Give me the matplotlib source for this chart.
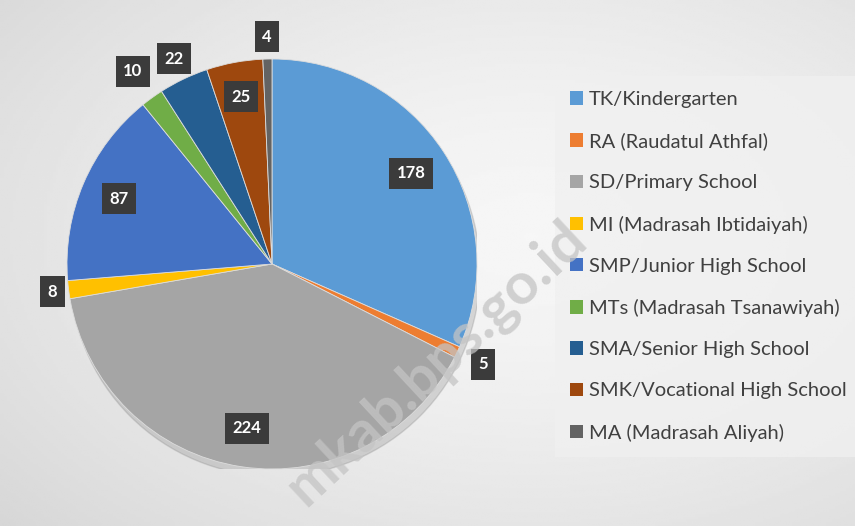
import numpy as np
import matplotlib.pyplot as plt
from matplotlib.patches import Patch, Circle

# data
labels = ["TK/Kindergarten", "RA (Raudatul Athfal)", "SD/Primary School",
          "MI (Madrasah Ibtidaiyah)", "SMP/Junior High School",
          "MTs (Madrasah Tsanawiyah)", "SMA/Senior High School",
          "SMK/Vocational High School", "MA (Madrasah Aliyah)"]
values = [178, 5, 224, 8, 87, 10, 22, 25, 4]
colors = ["#5B9BD5", "#ED7D31", "#A5A5A5", "#FFC000", "#4472C4",
          "#70AD47", "#255E91", "#9E480E", "#636363"]
# label distance from centre (fraction of radius)
label_r = [0.81, 1.14, 0.81, 1.08, 0.81, 1.16, 1.11, 0.83, 1.11]

plt.rcParams['font.family'] = ['Lato', 'DejaVu Sans']

fig = plt.figure(figsize=(8.55, 5.26), dpi=100)

# background gradient
bg = fig.add_axes([0, 0, 1, 1])
yy, xx = np.mgrid[0:1:200j, 0:1:300j]
d = np.sqrt(((xx - 0.62) / 0.9) ** 2 + ((yy - 0.55) / 0.9) ** 2)
shade = 0.965 - 0.14 * np.clip(d, 0, 1) ** 1.5
bg.imshow(shade, cmap="gray", vmin=0, vmax=1, extent=[0, 1, 0, 1],
          aspect="auto", origin="lower")
bg.axis("off")

ax = fig.add_axes([(272 - 205) / 855, (526 - 264 - 205) / 526, 410 / 855, 410 / 526])
ax.add_patch(Circle((0.015, -0.035), 1.0, color="#7a7a7a", alpha=0.25, zorder=0))
wedges, _ = ax.pie(values, colors=colors, startangle=90, counterclock=False,
                   radius=1.0, wedgeprops=dict(linewidth=0.6, edgecolor="#dddddd"))
ax.set_xlim(-1, 1)
ax.set_ylim(-1, 1)
ax.set_aspect("equal")
ax.axis("off")

total = sum(values)
start = 90.0
for v, r in zip(values, label_r):
    span = 360.0 * v / total
    mid = np.deg2rad(start - span / 2)
    start -= span
    ax.text(r * np.cos(mid), r * np.sin(mid), str(v), ha="center", va="center",
            color="white", fontsize=12, fontweight="bold", clip_on=False,
            bbox=dict(boxstyle="square,pad=0.45", facecolor="#3b3b3b", edgecolor="none"))

handles = [Patch(facecolor=c, edgecolor="none") for c in colors]
leg = fig.legend(handles, labels, loc="upper left", bbox_to_anchor=(555 / 855, 1 - 76 / 526),
                 frameon=True, fontsize=14.5, labelspacing=1.2, handlelength=0.65,
                 handleheight=0.65, handletextpad=0.3, borderpad=0.75, borderaxespad=0,
                 labelcolor="#404040", fancybox=False)
leg.get_frame().set_facecolor("#f0f0f0")
leg.get_frame().set_edgecolor("none")

# watermark on top
fig.text(0.51, 0.31, "mkab.bps.go.id", fontsize=42, fontweight="bold",
         color="#c4c4c4", alpha=0.75, rotation=43, ha="center", va="center",
         rotation_mode="anchor", zorder=10)

fig.savefig("out.png", dpi=100)
